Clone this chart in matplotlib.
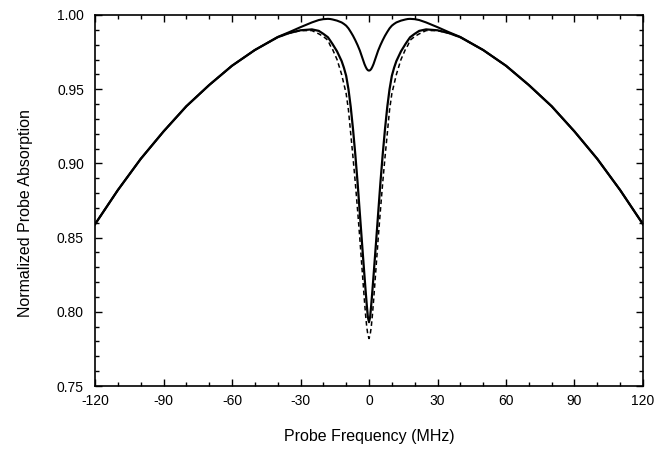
import numpy as np
import matplotlib
matplotlib.use("Agg")
import matplotlib.pyplot as plt
from matplotlib.ticker import MultipleLocator

plt.rcParams['font.family'] = ['Liberation Sans', 'DejaVu Sans']

# --- values (probe frequency in MHz) ---
freq = [-120, -110, -100, -90, -80, -70, -60, -50, -40, -35, -30, -25, -22, -20, -18,
        -17, -16, -14, -12, -11, -10, -9, -8, -7, -6, -5, -4, -3, -2, -1.5, -1, -0.5,
        0, 0.5, 1, 1.5, 2, 3, 4, 5, 6, 7, 8, 9, 10, 11, 12, 14, 16, 17, 18, 20, 22, 25,
        30, 35, 40, 50, 60, 70, 80, 90, 100, 110, 120]

# narrow dip (upper solid)
weak = [0.859, 0.882, 0.903, 0.9215, 0.9385, 0.9528, 0.9658, 0.9764, 0.9852, 0.9884,
        0.9918, 0.9950, 0.9966, 0.9972, 0.9974, 0.9973, 0.9970, 0.9962, 0.9950, 0.9940,
        0.9928, 0.9910, 0.9886, 0.9860, 0.9830, 0.9797, 0.9760, 0.9715, 0.9670, 0.9652,
        0.9637, 0.9628,
        0.9625,
        0.9628, 0.9637, 0.9652, 0.9670, 0.9715, 0.9760, 0.9797, 0.9830, 0.9860, 0.9886,
        0.9910, 0.9928, 0.9940, 0.9950, 0.9962, 0.9970, 0.9973, 0.9974, 0.9972, 0.9966,
        0.9950, 0.9918, 0.9884, 0.9852, 0.9764, 0.9658, 0.9528, 0.9385, 0.9215, 0.903,
        0.882, 0.859]

# deep dip (lower solid)
deep = [0.859, 0.882, 0.903, 0.9215, 0.9385, 0.9528, 0.9658, 0.9764, 0.9850, 0.9878,
        0.9897, 0.9903, 0.9893, 0.9873, 0.9850, 0.9828, 0.9805, 0.9755, 0.9690, 0.9645,
        0.9590, 0.9500, 0.9380, 0.9230, 0.9060, 0.8870, 0.8660, 0.8450, 0.8245, 0.8145,
        0.8050, 0.7965,
        0.7930,
        0.7965, 0.8050, 0.8145, 0.8245, 0.8450, 0.8660, 0.8870, 0.9060, 0.9230, 0.9380,
        0.9500, 0.9590, 0.9645, 0.9690, 0.9755, 0.9805, 0.9828, 0.9850, 0.9873, 0.9893,
        0.9903, 0.9897, 0.9878, 0.9850, 0.9764, 0.9658, 0.9528, 0.9385, 0.9215, 0.903,
        0.882, 0.859]

# deep dip (dashed)
deep_dash = [0.859, 0.882, 0.903, 0.9215, 0.9385, 0.9528, 0.9658, 0.9764, 0.9850, 0.9877,
             0.9895, 0.9895, 0.9873, 0.9855, 0.9830, 0.9795, 0.9770, 0.9700, 0.9600, 0.9535,
             0.9470, 0.9360, 0.9200, 0.9040, 0.8870, 0.8685, 0.8490, 0.8280, 0.8075, 0.7980,
             0.7900, 0.7845,
             0.7820,
             0.7845, 0.7900, 0.7980, 0.8075, 0.8280, 0.8490, 0.8685, 0.8870, 0.9040, 0.9200,
             0.9360, 0.9470, 0.9535, 0.9600, 0.9700, 0.9770, 0.9795, 0.9830, 0.9855, 0.9873,
             0.9895, 0.9895, 0.9877, 0.9850, 0.9764, 0.9658, 0.9528, 0.9385, 0.9215, 0.903,
             0.882, 0.859]

x_ticks = [-120, -90, -60, -30, 0, 30, 60, 90, 120]
y_ticks = [0.75, 0.80, 0.85, 0.90, 0.95, 1.00]

fig = plt.figure(figsize=(6.7, 4.49), dpi=100)
ax = fig.add_axes([0.1418, 0.1403, 0.8179, 0.8263])

ax.plot(freq, weak, color="black", lw=1.5)
ax.plot(freq, deep, color="black", lw=1.6)
ax.plot(freq, deep_dash, color="black", lw=1.1, ls=(0, (3, 2)))

ax.set_xlim(-120, 120)
ax.set_ylim(0.75, 1.00)
ax.set_xticks(x_ticks)
ax.set_yticks(y_ticks)
ax.set_xticklabels([str(t) for t in x_ticks])
ax.set_yticklabels([f"{t:.2f}" for t in y_ticks])
ax.xaxis.set_minor_locator(MultipleLocator(10))
ax.yaxis.set_minor_locator(MultipleLocator(0.01))

ax.tick_params(which="both", direction="in", top=True, right=True, width=1.0, colors="black")
ax.tick_params(which="major", length=5)
ax.tick_params(which="minor", length=3)
ax.tick_params(axis="x", which="major", labelsize=10, pad=6)
ax.tick_params(axis="y", which="major", labelsize=10, pad=8)
for sp in ax.spines.values():
	sp.set_linewidth(1.2)

ax.set_xlabel("Probe Frequency (MHz)", fontsize=11.5)
ax.set_ylabel("Normalized Probe Absorption", fontsize=11.5)
ax.xaxis.set_label_coords(0.5, -0.115)
ax.yaxis.set_label_coords(-0.114, 0.465)

fig.savefig("out.png", dpi=100)
